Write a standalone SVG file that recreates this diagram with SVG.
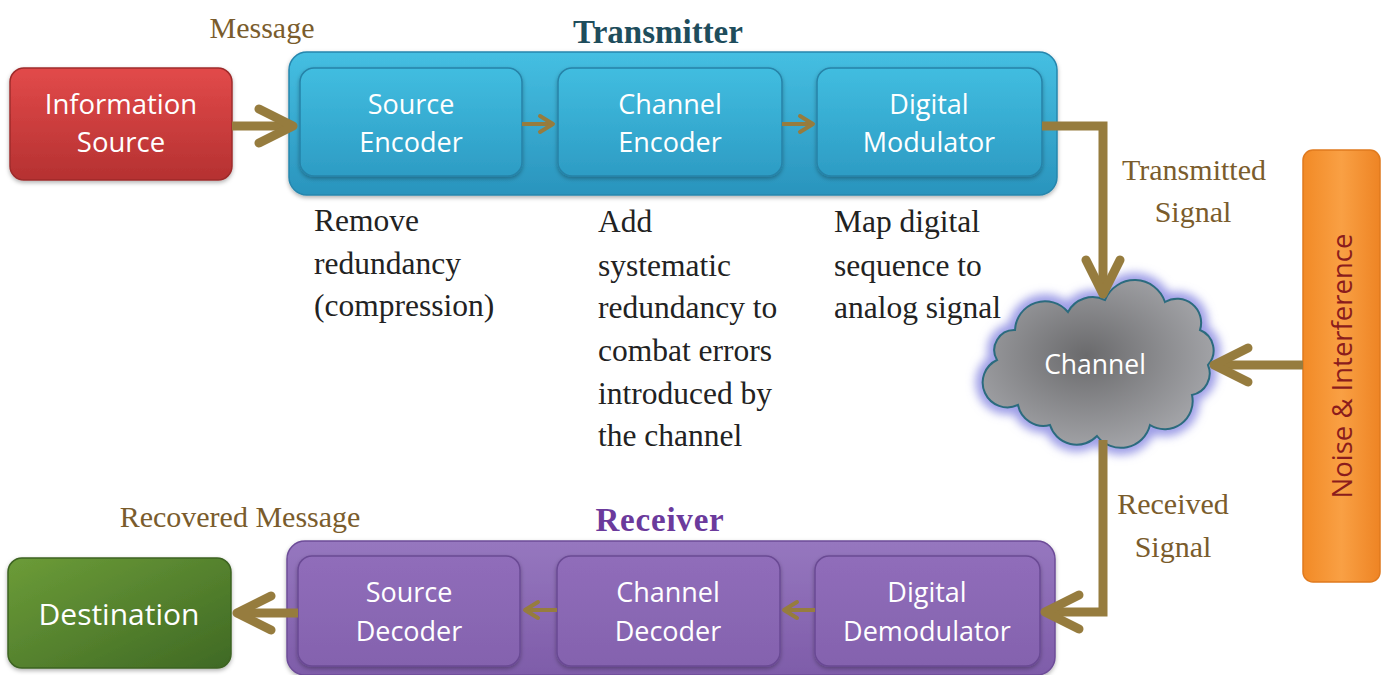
<svg xmlns="http://www.w3.org/2000/svg" width="1386" height="675" viewBox="0 0 1386 675">
<style>
.sans{font-family:"Open Sans","Noto Sans",sans-serif;fill:#ffffff;text-anchor:middle}
.lbl{font-family:"Liberation Serif",serif;fill:#7a5c2c;font-size:30px;text-anchor:middle}
.desc{font-family:"Liberation Serif",serif;fill:#222;font-size:31.5px}
.big{fill:none;stroke:#967c3e;stroke-width:9}
.thin{fill:none;stroke:#967c3e;stroke-width:4}
.inT{fill:url(#gInT);stroke:#2683a8;stroke-width:1.5}
.inR{fill:url(#gInR);stroke:#6a4a94;stroke-width:1.5}
</style>
<defs>
<linearGradient id="gRed" x1="0" y1="0" x2="0" y2="1"><stop offset="0" stop-color="#e24a4a"/><stop offset="1" stop-color="#b53131"/></linearGradient>
<linearGradient id="gTx" x1="0" y1="0" x2="0" y2="1"><stop offset="0" stop-color="#45bfe2"/><stop offset="1" stop-color="#2a94bd"/></linearGradient>
<linearGradient id="gInT" x1="0" y1="0" x2="0" y2="1"><stop offset="0" stop-color="#41bde0"/><stop offset="1" stop-color="#2d9cc4"/></linearGradient>
<linearGradient id="gRx" x1="0" y1="0" x2="0" y2="1"><stop offset="0" stop-color="#9677bf"/><stop offset="1" stop-color="#7e5ca9"/></linearGradient>
<linearGradient id="gInR" x1="0" y1="0" x2="0" y2="1"><stop offset="0" stop-color="#906dba"/><stop offset="1" stop-color="#8462ae"/></linearGradient>
<linearGradient id="gGrn" x1="0" y1="0" x2="1" y2="1"><stop offset="0" stop-color="#6c9c38"/><stop offset="1" stop-color="#3f6924"/></linearGradient>
<linearGradient id="gOr" x1="0" y1="0" x2="1" y2="0"><stop offset="0" stop-color="#f28a26"/><stop offset="0.5" stop-color="#f9a044"/><stop offset="1" stop-color="#ee8424"/></linearGradient>
<radialGradient id="gCloud" cx="0.45" cy="0.45" r="0.6"><stop offset="0" stop-color="#6a6a6c"/><stop offset="1" stop-color="#a6a7ab"/></radialGradient>
<filter id="glow" x="-20%" y="-20%" width="140%" height="140%"><feGaussianBlur stdDeviation="5"/></filter>
<filter id="sh" x="-10%" y="-10%" width="120%" height="130%"><feDropShadow dx="0" dy="2" stdDeviation="2" flood-color="#000" flood-opacity="0.3"/></filter>
<marker id="hb" markerUnits="userSpaceOnUse" viewBox="-42 -24 48 48" refX="0" refY="0" markerWidth="48" markerHeight="48" orient="auto" overflow="visible">
<path d="M-34,-17 L0,0 L-34,17" fill="none" stroke="#967c3e" stroke-width="9" stroke-linecap="round" stroke-linejoin="round"/>
</marker>
<marker id="hs" markerUnits="userSpaceOnUse" viewBox="-18 -12 22 24" refX="0" refY="0" markerWidth="22" markerHeight="24" orient="auto" overflow="visible">
<path d="M-13,-8 L0,0 L-13,8" fill="none" stroke="#967c3e" stroke-width="4" stroke-linecap="round" stroke-linejoin="round"/>
</marker>
<path id="cloudShape" d="M997,360 A20,20 0 0 1 1015,330 A30,30 0 0 1 1068,312 A28,28 0 0 1 1105,300 A32,32 0 0 1 1165,302 A24,24 0 0 1 1200,330 A22,22 0 0 1 1208,365 A22,22 0 0 1 1192,395 A28,28 0 0 1 1150,425 A30,30 0 0 1 1097,436 A28,28 0 0 1 1050,425 A26,26 0 0 1 1018,405 A22,22 0 0 1 997,360 Z"/>
</defs>
<rect width="1386" height="675" fill="#ffffff"/>

<g id="transmitter">
<rect x="289" y="52" width="768" height="143" rx="18" fill="url(#gTx)" stroke="#2686ad" stroke-width="1.5" filter="url(#sh)"/>
<text x="658" y="43" font-family="Liberation Serif,serif" font-weight="bold" font-size="33" fill="#1e4d5c" text-anchor="middle">Transmitter</text>
</g>
<g id="receiver">
<rect x="287" y="541" width="768" height="134" rx="18" fill="url(#gRx)" stroke="#6d4c98" stroke-width="1.5" filter="url(#sh)"/>
<text x="660" y="531" font-family="Liberation Serif,serif" font-weight="bold" font-size="33" letter-spacing="0.8" fill="#6b3a9c" text-anchor="middle">Receiver</text>
</g>

<g id="info-source">
<rect x="10" y="68" width="222" height="112" rx="14" fill="url(#gRed)" stroke="#9e2b2b" stroke-width="1.5" filter="url(#sh)"/>
<text class="sans" x="121" y="114" font-size="27.5">Information</text>
<text class="sans" x="121" y="152" font-size="27.5">Source</text>
</g>
<g id="source-encoder">
<rect class="inT" x="300" y="68" width="222" height="108" rx="14" filter="url(#sh)"/>
<text class="sans" x="411" y="114" font-size="27">Source</text>
<text class="sans" x="411" y="152" font-size="27">Encoder</text>
</g>
<g id="channel-encoder">
<rect class="inT" x="558" y="68" width="224" height="108" rx="14" filter="url(#sh)"/>
<text class="sans" x="670" y="114" font-size="27">Channel</text>
<text class="sans" x="670" y="152" font-size="27">Encoder</text>
</g>
<g id="digital-modulator">
<rect class="inT" x="817" y="68" width="225" height="108" rx="14" filter="url(#sh)"/>
<text class="sans" x="929" y="114" font-size="27">Digital</text>
<text class="sans" x="929" y="152" font-size="27">Modulator</text>
</g>

<g id="channel">
<use href="#cloudShape" fill="none" stroke="#9b9be6" stroke-width="14" filter="url(#glow)"/>
<use href="#cloudShape" fill="url(#gCloud)" stroke="#2b6b7e" stroke-width="2"/>
<text class="sans" x="1095" y="374" font-size="26.5">Channel</text>
</g>

<g id="noise">
<rect x="1303" y="150" width="77" height="432" rx="10" fill="url(#gOr)" stroke="#e07a1e" stroke-width="1.5"/>
<text x="1352" y="366" font-family="'Open Sans','Noto Sans',sans-serif" font-size="27.5" fill="#8b1c1c" text-anchor="middle" transform="rotate(-90 1352 366)">Noise &amp; Interference</text>
</g>

<g id="destination">
<rect x="8" y="558" width="223" height="110" rx="14" fill="url(#gGrn)" stroke="#3d6322" stroke-width="1.5" filter="url(#sh)"/>
<text class="sans" x="119" y="625" font-size="30">Destination</text>
</g>
<g id="source-decoder">
<rect class="inR" x="298" y="556" width="222" height="110" rx="14" filter="url(#sh)"/>
<text class="sans" x="409" y="602" font-size="27">Source</text>
<text class="sans" x="409" y="641" font-size="27">Decoder</text>
</g>
<g id="channel-decoder">
<rect class="inR" x="557" y="556" width="223" height="110" rx="14" filter="url(#sh)"/>
<text class="sans" x="668" y="602" font-size="27">Channel</text>
<text class="sans" x="668" y="641" font-size="27">Decoder</text>
</g>
<g id="digital-demodulator">
<rect class="inR" x="815" y="556" width="225" height="110" rx="14" filter="url(#sh)"/>
<text class="sans" x="927" y="602" font-size="27">Digital</text>
<text class="sans" x="927" y="641" font-size="27">Demodulator</text>
</g>

<g id="connectors">
<path class="big" d="M232,126 L293,126" marker-end="url(#hb)"/>
<path class="thin" d="M522,124 L553,124" marker-end="url(#hs)"/>
<path class="thin" d="M782,124 L813,124" marker-end="url(#hs)"/>
<path class="big" d="M1042,126 L1103,126 L1103,294" marker-end="url(#hb)"/>
<path class="big" d="M1303,365 L1214,365" marker-end="url(#hb)"/>
<path class="big" d="M1103,440 L1103,612 L1045,612" marker-end="url(#hb)"/>
<path class="thin" d="M815,610 L784,610" marker-end="url(#hs)"/>
<path class="thin" d="M557,610 L525,610" marker-end="url(#hs)"/>
<path class="big" d="M298,613 L237,613" marker-end="url(#hb)"/>
</g>

<g id="labels">
<text class="lbl" x="262" y="38">Message</text>
<text class="lbl" x="1194" y="180">Transmitted</text>
<text class="lbl" x="1193" y="222">Signal</text>
<text class="lbl" x="1173" y="514">Received</text>
<text class="lbl" x="1173" y="557">Signal</text>
<text class="lbl" x="240" y="527">Recovered Message</text>
</g>
<g id="descriptions">
<text class="desc" x="314" y="231">Remove</text>
<text class="desc" x="314" y="274">redundancy</text>
<text class="desc" x="314" y="316">(compression)</text>
<text class="desc" x="598" y="232">Add</text>
<text class="desc" x="598" y="276">systematic</text>
<text class="desc" x="598" y="318">redundancy to</text>
<text class="desc" x="598" y="361">combat errors</text>
<text class="desc" x="598" y="404">introduced by</text>
<text class="desc" x="598" y="446">the channel</text>
<text class="desc" x="834" y="232">Map digital</text>
<text class="desc" x="834" y="276">sequence to</text>
<text class="desc" x="834" y="318">analog signal</text>
</g>
</svg>
